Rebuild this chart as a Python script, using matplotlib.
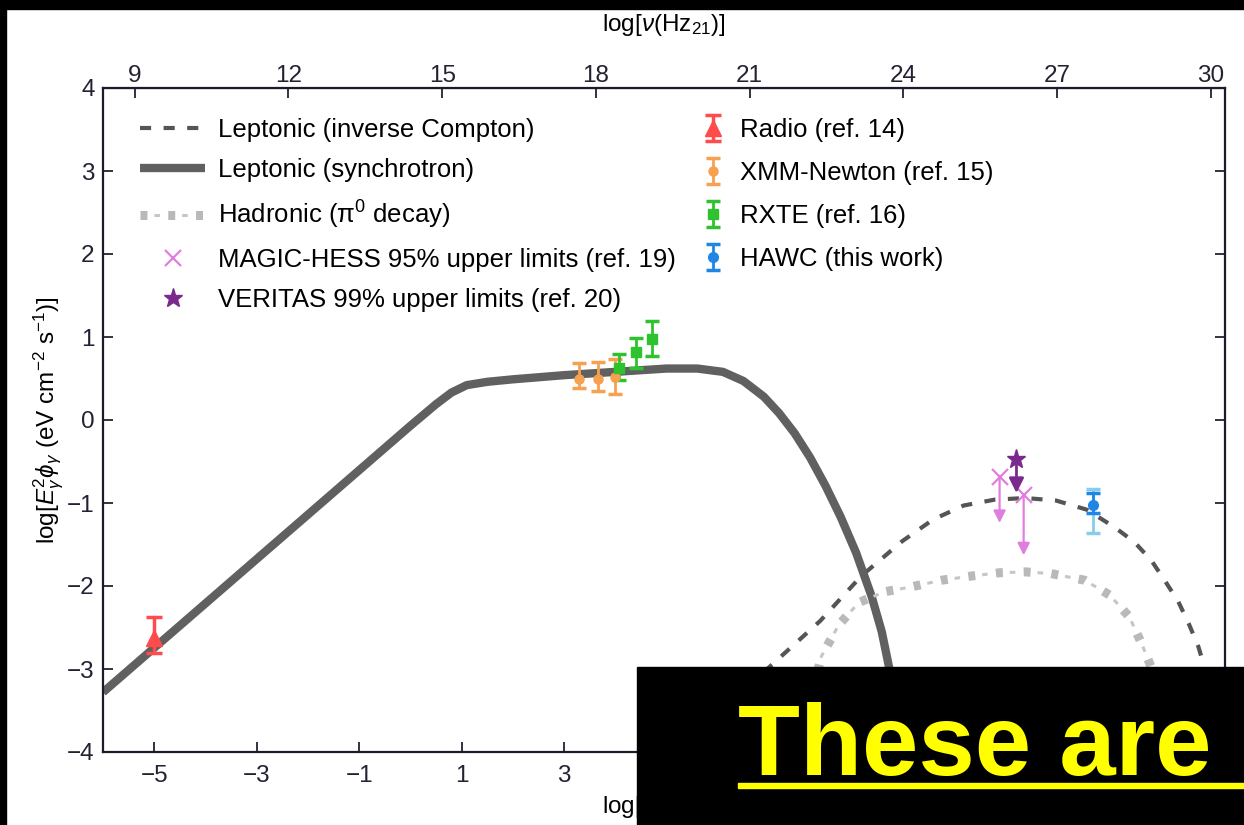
import numpy as np
import matplotlib.pyplot as plt
from matplotlib.patches import Rectangle
from matplotlib.legend_handler import HandlerTuple

plt.rcParams['font.family'] = ['Liberation Sans', 'DejaVu Sans']
plt.rcParams['mathtext.fontset'] = 'custom'
plt.rcParams['mathtext.rm'] = 'Liberation Sans'
plt.rcParams['mathtext.it'] = 'Liberation Sans:italic'
plt.rcParams['mathtext.bf'] = 'Liberation Sans:bold'
plt.rcParams['lines.scale_dashes'] = False

FS = 18.5   # legend text
TFS = 17.5  # ticks / axis labels

# model curves, log E (eV) vs log E^2 phi
synch_x = [-6, -4, -2, 0, 0.5, 0.8, 1.1, 1.5, 2.0, 3.0, 4.0, 5.0, 5.6, 6.1, 6.5, 6.9, 7.2, 7.5, 7.8,
           8.1, 8.4, 8.7, 9.0, 9.2, 9.45]
synch_y = [-3.28, -2.21, -1.14, -0.07, 0.19, 0.33, 0.42, 0.46, 0.49, 0.54, 0.58, 0.62, 0.62, 0.58, 0.47,
           0.28, 0.08, -0.16, -0.45, -0.79, -1.17, -1.6, -2.12, -2.55, -3.3]

ic_x = [5.2, 6.0, 7.0, 8.0, 8.8, 9.6, 10.2, 10.8, 11.4, 12.0, 12.6, 13.2, 13.74, 14.13, 14.46, 14.72, 14.99,
        15.19, 15.38, 15.5, 15.7, 15.9]
ic_y = [-4.0, -3.55, -2.98, -2.42, -1.88, -1.46, -1.2, -1.03, -0.96, -0.94, -0.97, -1.08, -1.29, -1.47, -1.69,
        -1.93, -2.19, -2.45, -2.73, -2.98, -3.4, -3.9]

had_x = [7.55, 7.8, 8.02, 8.36, 8.75, 9.25, 9.78, 10.37, 10.95, 11.5, 12.0, 12.5, 13.16, 13.65, 14.03, 14.27,
         14.46, 14.7, 14.95]
had_y = [-4.0, -3.4, -2.85, -2.47, -2.2, -2.07, -2.01, -1.93, -1.88, -1.84, -1.83, -1.85, -1.93, -2.11, -2.37,
         -2.69, -2.98, -3.45, -4.0]

# data points
radio_x = [-5.0]
radio_y = [-2.63]
radio_lo = [0.18]
radio_hi = [0.26]

xmm_x = [3.30, 3.67, 3.99]
xmm_y = [0.50, 0.49, 0.52]
xmm_lo = [0.11, 0.14, 0.21]
xmm_hi = [0.19, 0.21, 0.21]

rxte_x = [4.08, 4.40, 4.71]
rxte_y = [0.63, 0.82, 0.98]
rxte_lo = [0.15, 0.19, 0.21]
rxte_hi = [0.16, 0.17, 0.21]

hawc_x = [13.33]
hawc_y = [-1.02]
hawc_stat_lo = [0.10]
hawc_stat_hi = [0.14]
hawc_sys_lo = [0.34]
hawc_sys_hi = [0.19]

mh_x = [11.50, 11.97]
mh_y = [-0.69, -0.90]
mh_end = [-1.24, -1.63]

ver_x = [11.83]
ver_y = [-0.47]
ver_end = [-0.88]

xticks = [-5, -3, -1, 1, 3, 5, 7, 9, 11, 13, 15]
xlabels = ['\u22125', '\u22123', '\u22121', '1', '3', '', '', '', '', '', '']
yticks = [-4, -3, -2, -1, 0, 1, 2, 3, 4]
nu_ticks = [9, 12, 15, 18, 21, 24, 27, 30]
NU_OFFSET = 14.38

fig = plt.figure(figsize=(12.44, 8.25), dpi=100)
ax = fig.add_axes([103 / 1244, 1 - 752 / 825, 1122 / 1244, 664 / 825])

l_ic, = ax.plot(ic_x, ic_y, color='#555555', lw=3, linestyle=(0, (8, 9)))
l_syn, = ax.plot(synch_x, synch_y, color='#606060', lw=6, solid_capstyle='butt', solid_joinstyle='round')
l_h1, = ax.plot(had_x, had_y, color='#b9b9b9', lw=6.5, linestyle=(0, (5, 15)))
l_h2, = ax.plot(had_x, had_y, color='#c6c6c6', lw=2.2, linestyle=(-10, (4, 16)))

e_radio = ax.errorbar(radio_x, radio_y, yerr=[radio_lo, radio_hi], fmt='^', color='#ff4b4b',
                      ms=11, capsize=6, capthick=2.5, elinewidth=2.5)
e_xmm = ax.errorbar(xmm_x, xmm_y, yerr=[xmm_lo, xmm_hi], fmt='o', color='#f7a04f',
                    ms=6.5, capsize=5, capthick=2.5, elinewidth=2)
e_rxte = ax.errorbar(rxte_x, rxte_y, yerr=[rxte_lo, rxte_hi], fmt='s', color='#2fc22f',
                     ms=7.5, capsize=5, capthick=2.5, elinewidth=2)
ax.errorbar(hawc_x, hawc_y, yerr=[hawc_sys_lo, hawc_sys_hi], fmt='none', ecolor='#86cdea',
            capsize=5, capthick=2.5, elinewidth=2)
e_hawc = ax.errorbar(hawc_x, hawc_y, yerr=[hawc_stat_lo, hawc_stat_hi], fmt='o', color='#1f86e6',
                     ms=7, capsize=5, capthick=2.5, elinewidth=2)

for x, y, y2 in zip(mh_x, mh_y, mh_end):
    ax.annotate('', xy=(x, y2), xytext=(x, y),
                arrowprops=dict(arrowstyle='-|>', color='#e07ee0', lw=1.6, mutation_scale=18, shrinkA=0, shrinkB=0))
m_mh, = ax.plot(mh_x, mh_y, 'x', color='#e07ee0', ms=12, mew=1.6, linestyle='none')
for x, y, y2 in zip(ver_x, ver_y, ver_end):
    ax.annotate('', xy=(x, y2), xytext=(x, y),
                arrowprops=dict(arrowstyle='-|>', color='#7a2a8c', lw=2, mutation_scale=22, shrinkA=0, shrinkB=0))
m_ver, = ax.plot(ver_x, ver_y, '*', color='#7a2a8c', ms=14, linestyle='none')

ax.set_xlim(-6, 15.9)
ax.set_ylim(-4, 4)
ax.set_xticks(xticks)
ax.set_xticklabels(xlabels)
ax.set_yticks(yticks)
ax.set_yticklabels([str(t).replace('-', '\u2212') for t in yticks])
ax.tick_params(direction='in', length=7, width=1.3, labelsize=TFS, right=True, top=False, pad=6,
               colors='#222233')
ax.tick_params(axis='x', pad=9)
for s in ax.spines.values():
    s.set_color('#1b1b2b')
    s.set_linewidth(1.6)

sec = ax.secondary_xaxis('top', functions=(lambda e: e + NU_OFFSET, lambda n: n - NU_OFFSET))
sec.set_xticks(nu_ticks)
sec.tick_params(direction='in', length=7, width=1.3, labelsize=TFS, pad=1, colors='#222233')
sec.set_xlabel(r'log[$\nu$(Hz$_{21}$)]', fontsize=TFS, labelpad=24)

ax.set_xlabel(r'log[$E_\gamma$ (eV)]', fontsize=TFS, labelpad=6)
ax.set_ylabel(r'log[$E_\gamma^2\phi_\gamma$ (eV cm$^{-2}$ s$^{-1}$)]', fontsize=TFS, labelpad=1)

leg1 = ax.legend([l_ic, l_syn, (l_h1, l_h2), m_mh, m_ver],
                 ['Leptonic (inverse Compton)', 'Leptonic (synchrotron)', 'Hadronic (\u03c0$^0$ decay)',
                  'MAGIC-HESS 95% upper limits (ref. 19)', 'VERITAS 99% upper limits (ref. 20)'],
                 handler_map={tuple: HandlerTuple(ndivide=1)},
                 loc='upper left', bbox_to_anchor=((140 - 103) / 1122, (752 - 118) / 664),
                 frameon=False, fontsize=FS, borderpad=0, borderaxespad=0,
                 handlelength=2.53, handletextpad=0.5, labelspacing=0.64)
ax.add_artist(leg1)
ax.legend([e_radio, e_xmm, e_rxte, e_hawc],
          ['Radio (ref. 14)', 'XMM-Newton (ref. 15)', 'RXTE (ref. 16)', 'HAWC (this work)'],
          loc='upper left', bbox_to_anchor=((700 - 103) / 1122, (752 - 118) / 664),
          frameon=False, fontsize=FS, borderpad=0, borderaxespad=0,
          handlelength=1.0, handletextpad=0.56, labelspacing=0.74)

# black framing and overlay box
fig.add_artist(Rectangle((0, 1 - 9 / 825), 1, 9 / 825, transform=fig.transFigure, color='black', zorder=10))
fig.add_artist(Rectangle((0, 0), 6 / 1244, 1, transform=fig.transFigure, color='black', zorder=10))
fig.add_artist(Rectangle((637 / 1244, 0), 1, 158 / 825, transform=fig.transFigure, color='black', zorder=10))
fig.text(738 / 1244, 1 - 775 / 825, 'These are', color='#ffff00', fontsize=73, fontweight='bold',
         va='baseline', ha='left', zorder=11)
fig.add_artist(Rectangle((738 / 1244, 1 - 788 / 825), 1, 5 / 825, transform=fig.transFigure,
                         color='#ffff00', zorder=11))

fig.savefig('out.png', dpi=100)
